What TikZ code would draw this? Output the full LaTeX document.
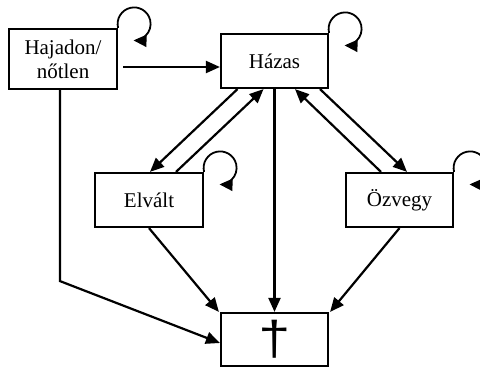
\documentclass[tikz,border=0pt]{standalone}
\usepackage{fontspec}
\setmainfont{Liberation Serif}
\newfontfamily\crossfont{Liberation Mono}
\usetikzlibrary{arrows.meta,calc}
\tikzset{
  state/.style={draw, line width=2.2pt, minimum width=#1, minimum height=54pt, inner sep=0pt, align=center, font=\fontsize{21}{24}\selectfont},
  state/.default=107pt,
  link/.style={line width=2.2pt, -{Triangle[length=14pt,width=12pt]}},
  selfloop/.style={line width=1.8pt, -{Triangle[length=13pt,width=12pt]}}
}
\begin{document}
\begin{tikzpicture}[x=1pt,y=-1pt]
\useasboundingbox (0,0) rectangle (480,367);
\node[state=108pt, minimum height=60pt] (haj) at (63,59) {Hajadon/\\nőtlen};
\node[state] (haz) at (274.5,61) {Házas};
\node[state=108pt] (elv) at (149,200) {Elvált};
\node[state] (ozv) at (399.5,200) {Özvegy};
\node[state, minimum height=53pt] (dag) at (274.5,339.5) {\scalebox{1.25}[1]{\crossfont\fontsize{46}{46}\selectfont †}};
% self loops
\foreach \n in {haj,haz,elv,ozv}{
  \draw[selfloop] (\n.north east) arc[start angle=166, end angle=452, radius=16.5];
}
% transitions
\draw[link] ($(haj.east)+(5,8)$) -- ($(haz.west)+(0,6)$);
\draw[link] ($(haz.south)+(-37,0)$) -- ($(elv.north)+(1,0)$);
\draw[link] ($(elv.north)+(27,0)$) -- ($(haz.south)+(-11,0)$);
\draw[link] (haz.south) -- (dag.north);
\draw[link] ($(ozv.north)+(-18.5,0)$) -- ($(haz.south)+(20.5,0)$);
\draw[link] ($(haz.south)+(45.5,0)$) -- ($(ozv.north)+(7.5,0)$);
\draw[link] (elv.south) -- ($(dag.north west)+(-1,0)$);
\draw[link] (ozv.south) -- ($(dag.north east)+(1,0)$);
\draw[link] ($(haj.south)+(-3,0)$) -- ++(0,191) -- ($(dag.west)+(0,3.5)$);
\end{tikzpicture}
\end{document}
